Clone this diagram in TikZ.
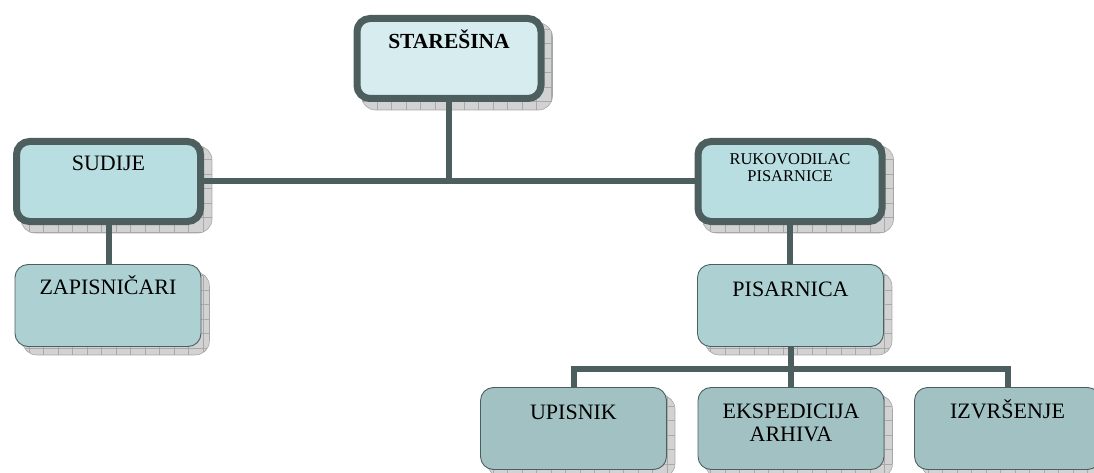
\documentclass[tikz,border=0pt]{standalone}
\usepackage{fontspec}
\setmainfont{Liberation Serif}
\usetikzlibrary{calc}
\pgfdeclarelayer{bg}
\pgfdeclarelayer{mid}
\pgfsetlayers{bg,mid,main}
\definecolor{bordc}{HTML}{4D5E5E}
\definecolor{fillA}{HTML}{D6ECEE}
\definecolor{fillB}{HTML}{B8DEE2}
\definecolor{fillC}{HTML}{ADD0D2}
\definecolor{fillD}{HTML}{A2C1C2}
\definecolor{shfill}{HTML}{D2D2D2}
\definecolor{shgrid}{HTML}{A9A9A9}
\tikzset{
  base/.style={rectangle, rounded corners=13pt, inner sep=0pt},
  thickbox/.style={base, draw=bordc, line width=7pt, minimum width=184pt, minimum height=80pt},
  thinbox/.style={base, draw=bordc, line width=0.9pt, minimum width=186pt, minimum height=82pt},
  lbl/.style={anchor=north, inner sep=0pt, text height=0pt, align=center, font=\fontsize{22}{23}\selectfont},
  conn/.style={draw=bordc, line width=6pt},
  shadowfill/.style={fill=shfill},
  shadowgrid/.style={draw=shgrid, line width=0.6pt},
  shadowline/.style={draw=gray!70, line width=0.6pt}
}
\begin{document}
\begin{tikzpicture}[x=1pt,y=-1pt]
\useasboundingbox (0,0) rectangle (1094,473);
% nodes
\node[thickbox, fill=fillA, label={[lbl, yshift=-33pt, font=\fontsize{21.5}{23}\selectfont\bfseries]north:STAREŠINA}] (sta) at (449,58.5) {};
\node[thickbox, fill=fillB, label={[lbl, yshift=-32pt]north:SUDIJE}] (sud) at (108.5,181.5) {};
\node[thickbox, fill=fillB, label={[lbl, yshift=-43pt, font=\fontsize{16.5}{17}\selectfont]north:RUKOVODILAC\\PISARNICE}] (ruk) at (790,181.5) {};
\node[thinbox, fill=fillC, label={[lbl, yshift=-30pt]north:ZAPISNIČARI}] (zap) at (108,305.5) {};
\node[thinbox, fill=fillC, label={[lbl, yshift=-32pt]north:PISARNICA}] (pis) at (790.5,305.5) {};
\node[thinbox, fill=fillD, label={[lbl, yshift=-32pt]north:UPISNIK}] (upi) at (573.5,428.5) {};
\node[thinbox, fill=fillD, label={[lbl, yshift=-54pt]north:EKSPEDICIJA\\ARHIVA}] (eks) at (791,428.5) {};
\node[thinbox, fill=fillD, label={[lbl, yshift=-31pt]north:IZVRŠENJE}] (izv) at (1007.5,428.5) {};
\coordinate (bus) at (791,369);
% shadows
\begin{pgfonlayer}{bg}
\foreach \n in {sta,sud,ruk,zap,pis,upi,eks,izv}{
  \begin{scope}
    \path[clip, rounded corners=14pt] ($(\n.north west)+(8,8)$) rectangle ($(\n.south east)+(8,8)$);
    \fill[shadowfill] ($(\n.north west)+(8,8)$) rectangle ($(\n.south east)+(8,8)$);
    \draw[shadowgrid, step=14.5pt] ($(\n.north west)+(8,8)$) grid ($(\n.south east)+(8,8)$);
  \end{scope}
  \draw[shadowline, rounded corners=14pt] ($(\n.north west)+(8,8)$) rectangle ($(\n.south east)+(8,8)$);
}
\end{pgfonlayer}
% connectors
\begin{pgfonlayer}{mid}
\draw[conn] (sta.south) -- (sta.south |- sud.east);
\draw[conn] (sud.east) -- (ruk.west);
\draw[conn] (sud.south) -- (sud.south |- zap.north);
\draw[conn] (ruk.south) -- (ruk.south |- pis.north);
\draw[conn] (pis.south) -- (pis.south |- eks.north);
\draw[conn] (upi.north) |- (bus) -| (izv.north);
\end{pgfonlayer}
\end{tikzpicture}
\end{document}
